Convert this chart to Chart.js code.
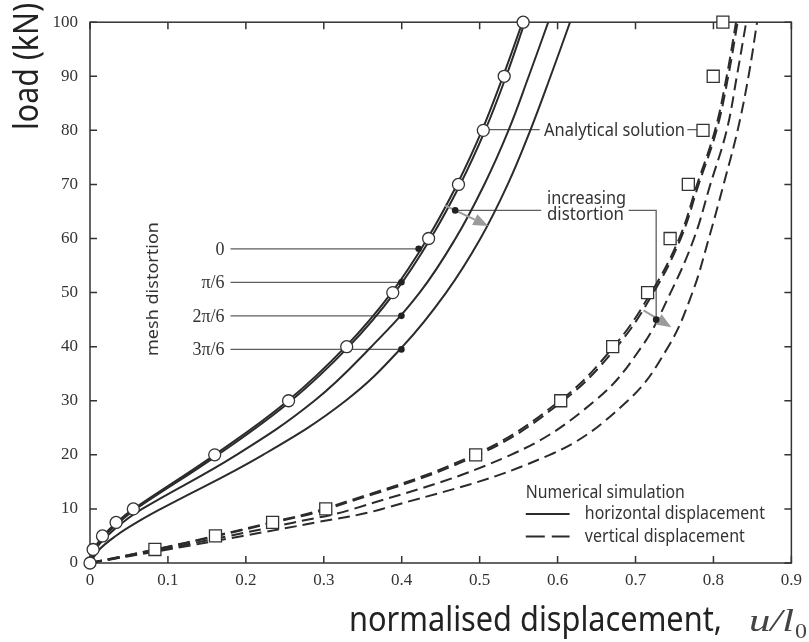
<!DOCTYPE html>
<html>
<head>
<meta charset="utf-8">
<script src="https://cdn.jsdelivr.net/npm/chart.js@4.4.1/dist/chart.umd.min.js"></script>
<style>
  html, body { margin: 0; padding: 0; background: #fff; }
  #wrap { width: 809px; height: 642px; }
</style>
</head>
<body>
<div id="wrap"><canvas id="chart" width="809" height="642"></canvas></div>
<script>
// load levels (kN) at which displacements were read
const loads = [0, 2.5, 5, 7.5, 10, 20, 30, 40, 50, 60, 70, 80, 90, 100];

// analytical solution (markers)
const analyticHoriz = [0, 0.004, 0.016, 0.0335, 0.0556, 0.160, 0.2548, 0.3294, 0.3885, 0.4345, 0.4728, 0.5047, 0.5315, 0.5558];
const analyticVert = [null, 0.0833, 0.161, 0.2343, 0.3025, 0.4949, 0.604, 0.6707, 0.7155, 0.7444, 0.7678, 0.7866, 0.7997, 0.8121];

// numerical simulation, horizontal displacement (mesh distortion 0, pi/6, 2pi/6, 3pi/6)
const horiz0 = [0, 0.005, 0.017, 0.034, 0.056, 0.160, 0.254, 0.328, 0.387, 0.433, 0.471, 0.503, 0.530, 0.555];
const horiz1 = [0, 0.006, 0.019, 0.037, 0.059, 0.164, 0.258, 0.332, 0.391, 0.437, 0.475, 0.507, 0.534, 0.558];
const horiz2 = [0, 0.007, 0.022, 0.042, 0.067, 0.188, 0.288, 0.361, 0.423, 0.469, 0.506, 0.537, 0.563, 0.588];
const horiz3 = [0, 0.012, 0.033, 0.060, 0.091, 0.222, 0.328, 0.401, 0.457, 0.501, 0.536, 0.565, 0.591, 0.616];

// numerical simulation, vertical displacement
const vert0 = [0, 0.083, 0.160, 0.232, 0.300, 0.493, 0.603, 0.672, 0.720, 0.756, 0.779, 0.802, 0.817, 0.829];
const vert1 = [0, 0.085, 0.163, 0.236, 0.305, 0.498, 0.607, 0.676, 0.723, 0.758, 0.781, 0.804, 0.819, 0.831];
const vert2 = [0, 0.092, 0.178, 0.262, 0.338, 0.540, 0.648, 0.708, 0.745, 0.775, 0.796, 0.817, 0.830, 0.842];
const vert3 = [0, 0.100, 0.196, 0.290, 0.375, 0.590, 0.690, 0.742, 0.773, 0.794, 0.813, 0.831, 0.845, 0.856];

const xTickLabels = ['0', '0.1', '0.2', '0.3', '0.4', '0.5', '0.6', '0.7', '0.8', '0.9'];
const yTickLabels = ['0', '10', '20', '30', '40', '50', '60', '70', '80', '90', '100'];

const meshLabels = ['0', 'π/6', '2π/6', '3π/6'];
const meshDots = [[0.4217, 58.1], [0.3996, 51.9], [0.3996, 45.7], [0.3996, 39.5]];

const ink = '#2b2b2b';
const guide = '#5e5e5e';
const arrowGrey = '#9b9b9b';
const sans = '"Noto Sans", "DejaVu Sans", sans-serif';
const serif = '"Liberation Serif", "DejaVu Serif", serif';

function points(xs) {
    return loads.map(function (l, i) { return { x: xs[i], y: l }; })
        .filter(function (p) { return p.x !== null; });
}

function curve(xs, dashed) {
    return {
        data: points(xs),
        borderColor: ink,
        borderWidth: 2,
        borderDash: dashed ? [12, 6] : [],
        pointRadius: 0,
        fill: false,
        tension: 0.4
    };
}

// text squeezed/stretched to the width it has in the figure
function fitText(ctx, text, x, y, width) {
    const w = ctx.measureText(text).width;
    ctx.save();
    ctx.translate(x, y);
    ctx.scale(width / w, 1);
    ctx.fillText(text, 0, 0);
    ctx.restore();
}

function arrow(ctx, x0, y0, x1, y1) {
    const a = Math.atan2(y1 - y0, x1 - x0);
    const len = 15, half = 6;
    const bx = x1 - len * Math.cos(a), by = y1 - len * Math.sin(a);
    ctx.strokeStyle = arrowGrey;
    ctx.lineWidth = 2;
    ctx.beginPath();
    ctx.moveTo(x0, y0);
    ctx.lineTo(bx, by);
    ctx.stroke();
    ctx.fillStyle = arrowGrey;
    ctx.beginPath();
    ctx.moveTo(x1, y1);
    ctx.lineTo(bx - half * Math.sin(a), by + half * Math.cos(a));
    ctx.lineTo(bx + half * Math.sin(a), by - half * Math.cos(a));
    ctx.closePath();
    ctx.fill();
}

const decor = {
    id: 'decor',
    beforeDatasetsDraw: function (chart) {
        const ctx = chart.ctx, a = chart.chartArea;
        const sx = chart.scales.x, sy = chart.scales.y;
        const px = function (v) { return sx.getPixelForValue(v); };
        const py = function (v) { return sy.getPixelForValue(v); };
        ctx.save();
        // frame
        ctx.strokeStyle = '#333';
        ctx.lineWidth = 1.5;
        ctx.strokeRect(a.left, a.top, a.right - a.left, a.bottom - a.top);
        // inward ticks on all four sides
        ctx.beginPath();
        sx.ticks.forEach(function (t) {
            const x = px(t.value);
            ctx.moveTo(x, a.bottom); ctx.lineTo(x, a.bottom - 7);
            ctx.moveTo(x, a.top); ctx.lineTo(x, a.top + 7);
        });
        sy.ticks.forEach(function (t) {
            const y = py(t.value);
            ctx.moveTo(a.left, y); ctx.lineTo(a.left + 7, y);
            ctx.moveTo(a.right, y); ctx.lineTo(a.right - 7, y);
        });
        ctx.stroke();

        // guide lines of the annotations
        ctx.strokeStyle = guide;
        ctx.lineWidth = 1.3;
        ctx.beginPath();
        meshDots.forEach(function (d) {
            ctx.moveTo(px(0.1803), py(d[1]));
            ctx.lineTo(px(d[0]), py(d[1]));
        });
        // Analytical solution
        ctx.moveTo(px(analyticHoriz[11]), py(80.15));
        ctx.lineTo(px(0.577), py(80.15));
        ctx.moveTo(px(0.7666), py(80.15));
        ctx.lineTo(px(analyticVert[11]), py(80.15));
        // increasing distortion
        ctx.moveTo(px(0.4686), py(65.2));
        ctx.lineTo(px(0.579), py(65.2));
        ctx.moveTo(px(0.6913), py(65.2));
        ctx.lineTo(px(0.7265), py(65.2));
        ctx.lineTo(px(0.7265), py(45.0));
        ctx.stroke();
        ctx.restore();
    },
    afterDatasetsDraw: function (chart) {
        const ctx = chart.ctx;
        const sx = chart.scales.x, sy = chart.scales.y;
        const px = function (v) { return sx.getPixelForValue(v); };
        const py = function (v) { return sy.getPixelForValue(v); };
        ctx.save();

        // arrows
        arrow(ctx, px(0.4558), py(66.1), px(0.5111), py(62.3));
        arrow(ctx, px(0.7103), py(46.7), px(0.746), py(43.6));

        // dots
        ctx.fillStyle = '#222';
        meshDots.concat([[0.4686, 65.2], [0.7265, 45.0]]).forEach(function (d) {
            ctx.beginPath();
            ctx.arc(px(d[0]), py(d[1]), 3.3, 0, Math.PI * 2);
            ctx.fill();
        });

        // mesh distortion labels
        ctx.fillStyle = '#333';
        ctx.font = '18px ' + serif;
        ctx.textAlign = 'right';
        ctx.textBaseline = 'middle';
        meshLabels.forEach(function (t, i) {
            ctx.fillText(t, px(0.1727), py(meshDots[i][1]) + 1);
        });

        ctx.textAlign = 'left';
        ctx.font = '18px ' + sans;
        fitText(ctx, 'Analytical solution', px(0.5826), py(80.15) + 1, 141);
        fitText(ctx, 'increasing', px(0.5864), py(67.4), 79);
        fitText(ctx, 'distortion', px(0.5864), py(64.4), 77);

        // legend
        fitText(ctx, 'Numerical simulation', px(0.5592), py(13.0), 159);
        fitText(ctx, 'horizontal displacement', px(0.635), py(9.05), 180);
        fitText(ctx, 'vertical displacement', px(0.635), py(4.92), 160);
        ctx.strokeStyle = ink;
        ctx.lineWidth = 2;
        ctx.beginPath();
        ctx.moveTo(px(0.5592), py(9.05));
        ctx.lineTo(px(0.6154), py(9.05));
        ctx.stroke();
        ctx.setLineDash([19, 7]);
        ctx.beginPath();
        ctx.moveTo(px(0.5592), py(4.92));
        ctx.lineTo(px(0.6154), py(4.92));
        ctx.stroke();
        ctx.setLineDash([]);

        // mesh distortion (rotated)
        ctx.save();
        ctx.translate(158, 289);
        ctx.rotate(-Math.PI / 2);
        ctx.textAlign = 'left';
        ctx.textBaseline = 'alphabetic';
        ctx.font = '16px ' + sans;
        fitText(ctx, 'mesh distortion', -67, 0, 134);
        ctx.restore();

        // axis titles
        ctx.fillStyle = '#222';
        ctx.textBaseline = 'alphabetic';
        ctx.font = '34px ' + sans;
        ctx.save();
        ctx.translate(38, 130);
        ctx.rotate(-Math.PI / 2);
        fitText(ctx, 'load (kN)', 0, 0, 127);
        ctx.restore();

        fitText(ctx, 'normalised displacement,', 349, 631, 373);
        ctx.fillStyle = '#444';
        ctx.font = 'italic 32px ' + serif;
        fitText(ctx, 'u/l', 749, 631, 45);
        ctx.font = '22px ' + serif;
        fitText(ctx, '0', 795, 638, 12);
        ctx.restore();
    }
};

new Chart(document.getElementById('chart'), {
    type: 'line',
    data: {
        datasets: [
            {
                data: points(analyticHoriz),
                showLine: false,
                pointRadius: 6,
                pointStyle: 'circle',
                pointBackgroundColor: '#fff',
                pointBorderColor: '#333',
                pointBorderWidth: 1.3,
                clip: false
            },
            {
                data: points(analyticVert),
                showLine: false,
                pointRadius: 8.5,
                pointStyle: 'rect',
                pointBackgroundColor: '#fff',
                pointBorderColor: '#333',
                pointBorderWidth: 1.3,
                clip: false
            },
            curve(horiz0, false),
            curve(horiz1, false),
            curve(horiz2, false),
            curve(horiz3, false),
            curve(vert0, true),
            curve(vert1, true),
            curve(vert2, true),
            curve(vert3, true)
        ]
    },
    options: {
        responsive: false,
        animation: false,
        events: [],
        layout: { padding: { top: 13, right: 13, left: 0, bottom: 0 } },
        plugins: { legend: { display: false }, tooltip: { enabled: false } },
        scales: {
            x: {
                type: 'linear', min: 0, max: 0.9,
                grid: { display: false, drawTicks: false },
                border: { display: false },
                ticks: {
                    stepSize: 0.1, padding: 7, color: '#333',
                    font: { family: serif, size: 17 },
                    callback: function (v, i) { return xTickLabels[i]; }
                },
                afterFit: function (s) { s.height = 79; }
            },
            y: {
                type: 'linear', min: 0, max: 100,
                grid: { display: false, drawTicks: false },
                border: { display: false },
                ticks: {
                    stepSize: 10, padding: 12, color: '#333',
                    font: { family: serif, size: 17 },
                    callback: function (v, i) { return yTickLabels[i]; }
                },
                afterFit: function (s) { s.width = 90; }
            }
        }
    },
    plugins: [decor]
});
</script>
</body>
</html>
